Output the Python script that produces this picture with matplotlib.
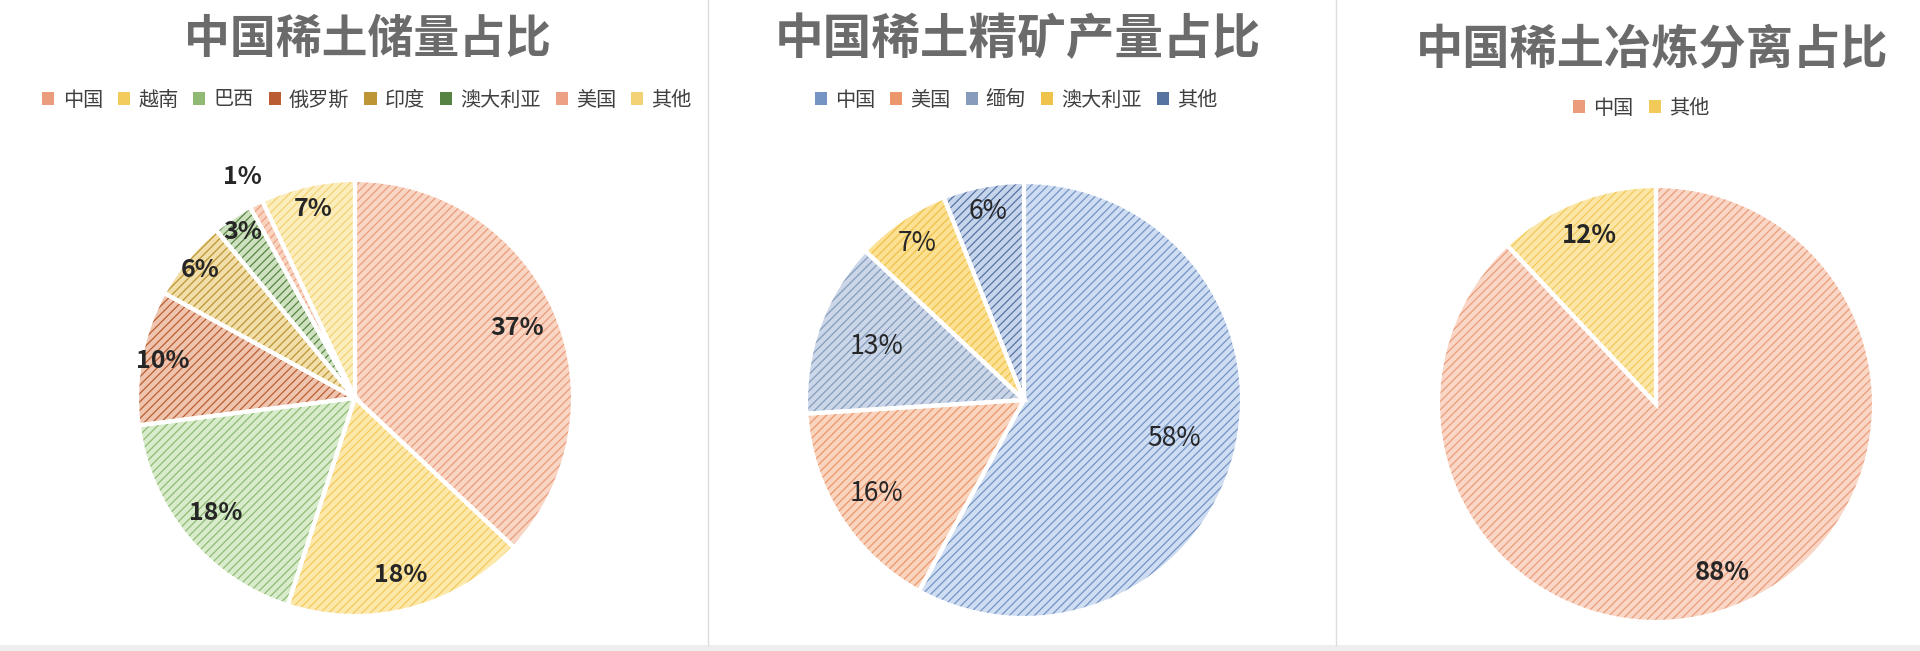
import matplotlib
matplotlib.use("Agg")
import matplotlib.pyplot as plt
from matplotlib.patches import Patch, Rectangle
from matplotlib.lines import Line2D
import numpy as np

# chart data
reserve_labels = ["中国", "越南", "巴西", "俄罗斯", "印度", "澳大利亚", "美国", "其他"]
reserve_share = [37, 18, 18, 10, 6, 3, 1, 7]

concentrate_labels = ["中国", "美国", "缅甸", "澳大利亚", "其他"]
concentrate_share = [58, 16, 13, 7, 6]

smelt_labels = ["中国", "其他"]
smelt_share = [88, 12]

titles = ["中国稀土储量占比", "中国稀土精矿产量占比", "中国稀土冶炼分离占比"]

plt.rcParams['font.family'] = ['Noto Sans CJK SC', 'DejaVu Sans']
plt.rcParams['hatch.linewidth'] = 0.9

W, H = 1920, 651
fig = plt.figure(figsize=(W / 100, H / 100), dpi=100)
fig.patch.set_facecolor("white")

HATCH = "////"


def px_axes(cx, cy, r):
    return fig.add_axes([(cx - r) / W, (H - cy - r) / H, 2 * r / W, 2 * r / H])


def draw_pie(ax, values, faces, hatch_colors, dists, weight, size):
    wedges, _ = ax.pie(values, startangle=90, counterclock=False, radius=1,
                       colors=faces, wedgeprops=dict(linewidth=0, hatch=HATCH))
    for w, hc in zip(wedges, hatch_colors):
        w.set_edgecolor(hc)
    # white separators
    ax.pie(values, startangle=90, counterclock=False, radius=1,
           wedgeprops=dict(fill=False, edgecolor="white", linewidth=3))
    for w, v, d in zip(wedges, values, dists):
        ang = np.deg2rad((w.theta1 + w.theta2) / 2)
        ax.text(d * np.cos(ang), d * np.sin(ang), f"{v}%", ha="center", va="center",
                fontsize=size, fontweight=weight, color="#262626")
    ax.set_xlim(-1, 1)
    ax.set_ylim(-1, 1)
    ax.set_aspect("equal")
    ax.axis("off")


def add_legend(labels, hatch_colors, cx, cy):
    handles = [Patch(facecolor=c, edgecolor="none") for c in hatch_colors]
    fig.legend(handles, labels, loc="center", bbox_to_anchor=(cx / W, 1 - cy / H),
               ncol=len(labels), frameon=False, fontsize=14.5, handlelength=0.6,
               handleheight=0.6, handletextpad=0.4, columnspacing=0.75,
               labelcolor="#404040")


# --- chart 1: reserves
faces1 = ["#F9D5C3", "#FCE8AA", "#D8ECCB", "#EEC4AE", "#F1DEA8", "#CDE1BF", "#F9D3BE", "#FCEDBD"]
hatch1 = ["#EA9C7C", "#F3CB5C", "#90BA74", "#BB5D33", "#BD9535", "#568342", "#ECA084", "#F3D275"]
ax1 = px_axes(355, 398, 218)
draw_pie(ax1, reserve_share, faces1, hatch1, [0.81, 0.84, 0.83, 0.9, 0.92, 0.92, 1.14, 0.89],
         "bold", 18)
fig.text(367 / W, 1 - 40 / H, titles[0], ha="center", va="center", fontsize=33,
         fontweight="bold", color="#6b6b6b")
add_legend(reserve_labels, hatch1, 367, 100)

# --- chart 2: concentrate output
faces2 = ["#CEDDF2", "#F9D4BF", "#CBD7E8", "#FCE093", "#C6D5EC"]
hatch2 = ["#7594C3", "#EC976B", "#869CBC", "#EFC34A", "#5673A1"]
ax2 = px_axes(1024, 400, 218)
draw_pie(ax2, concentrate_share, faces2, hatch2, [0.71, 0.8, 0.72, 0.87, 0.88], "normal", 19)
fig.text(1018 / W, 1 - 40 / H, titles[1], ha="center", va="center", fontsize=35,
         fontweight="bold", color="#6b6b6b")
add_legend(concentrate_labels, hatch2, 1016, 100)

# --- chart 3: smelting & separation
faces3 = ["#F9D6C5", "#FCE6A7"]
hatch3 = ["#EA9C7B", "#F2CA59"]
ax3 = px_axes(1656, 404, 218)
draw_pie(ax3, smelt_share, faces3, hatch3, [0.83, 0.83], "bold", 18.5)
fig.text(1652 / W, 1 - 49 / H, titles[2], ha="center", va="center", fontsize=34,
         fontweight="bold", color="#6b6b6b")
add_legend(smelt_labels, hatch3, 1641, 108)

# panel dividers and bottom strip
for x in (708, 1336):
    fig.add_artist(Line2D([x / W, x / W], [6 / H, 1], color="#dcdcdc", linewidth=1))
fig.add_artist(Rectangle((0, 0), 1, 6 / H, transform=fig.transFigure,
                         facecolor="#eeeeee", edgecolor="none"))

fig.savefig("out.png", dpi=100)
